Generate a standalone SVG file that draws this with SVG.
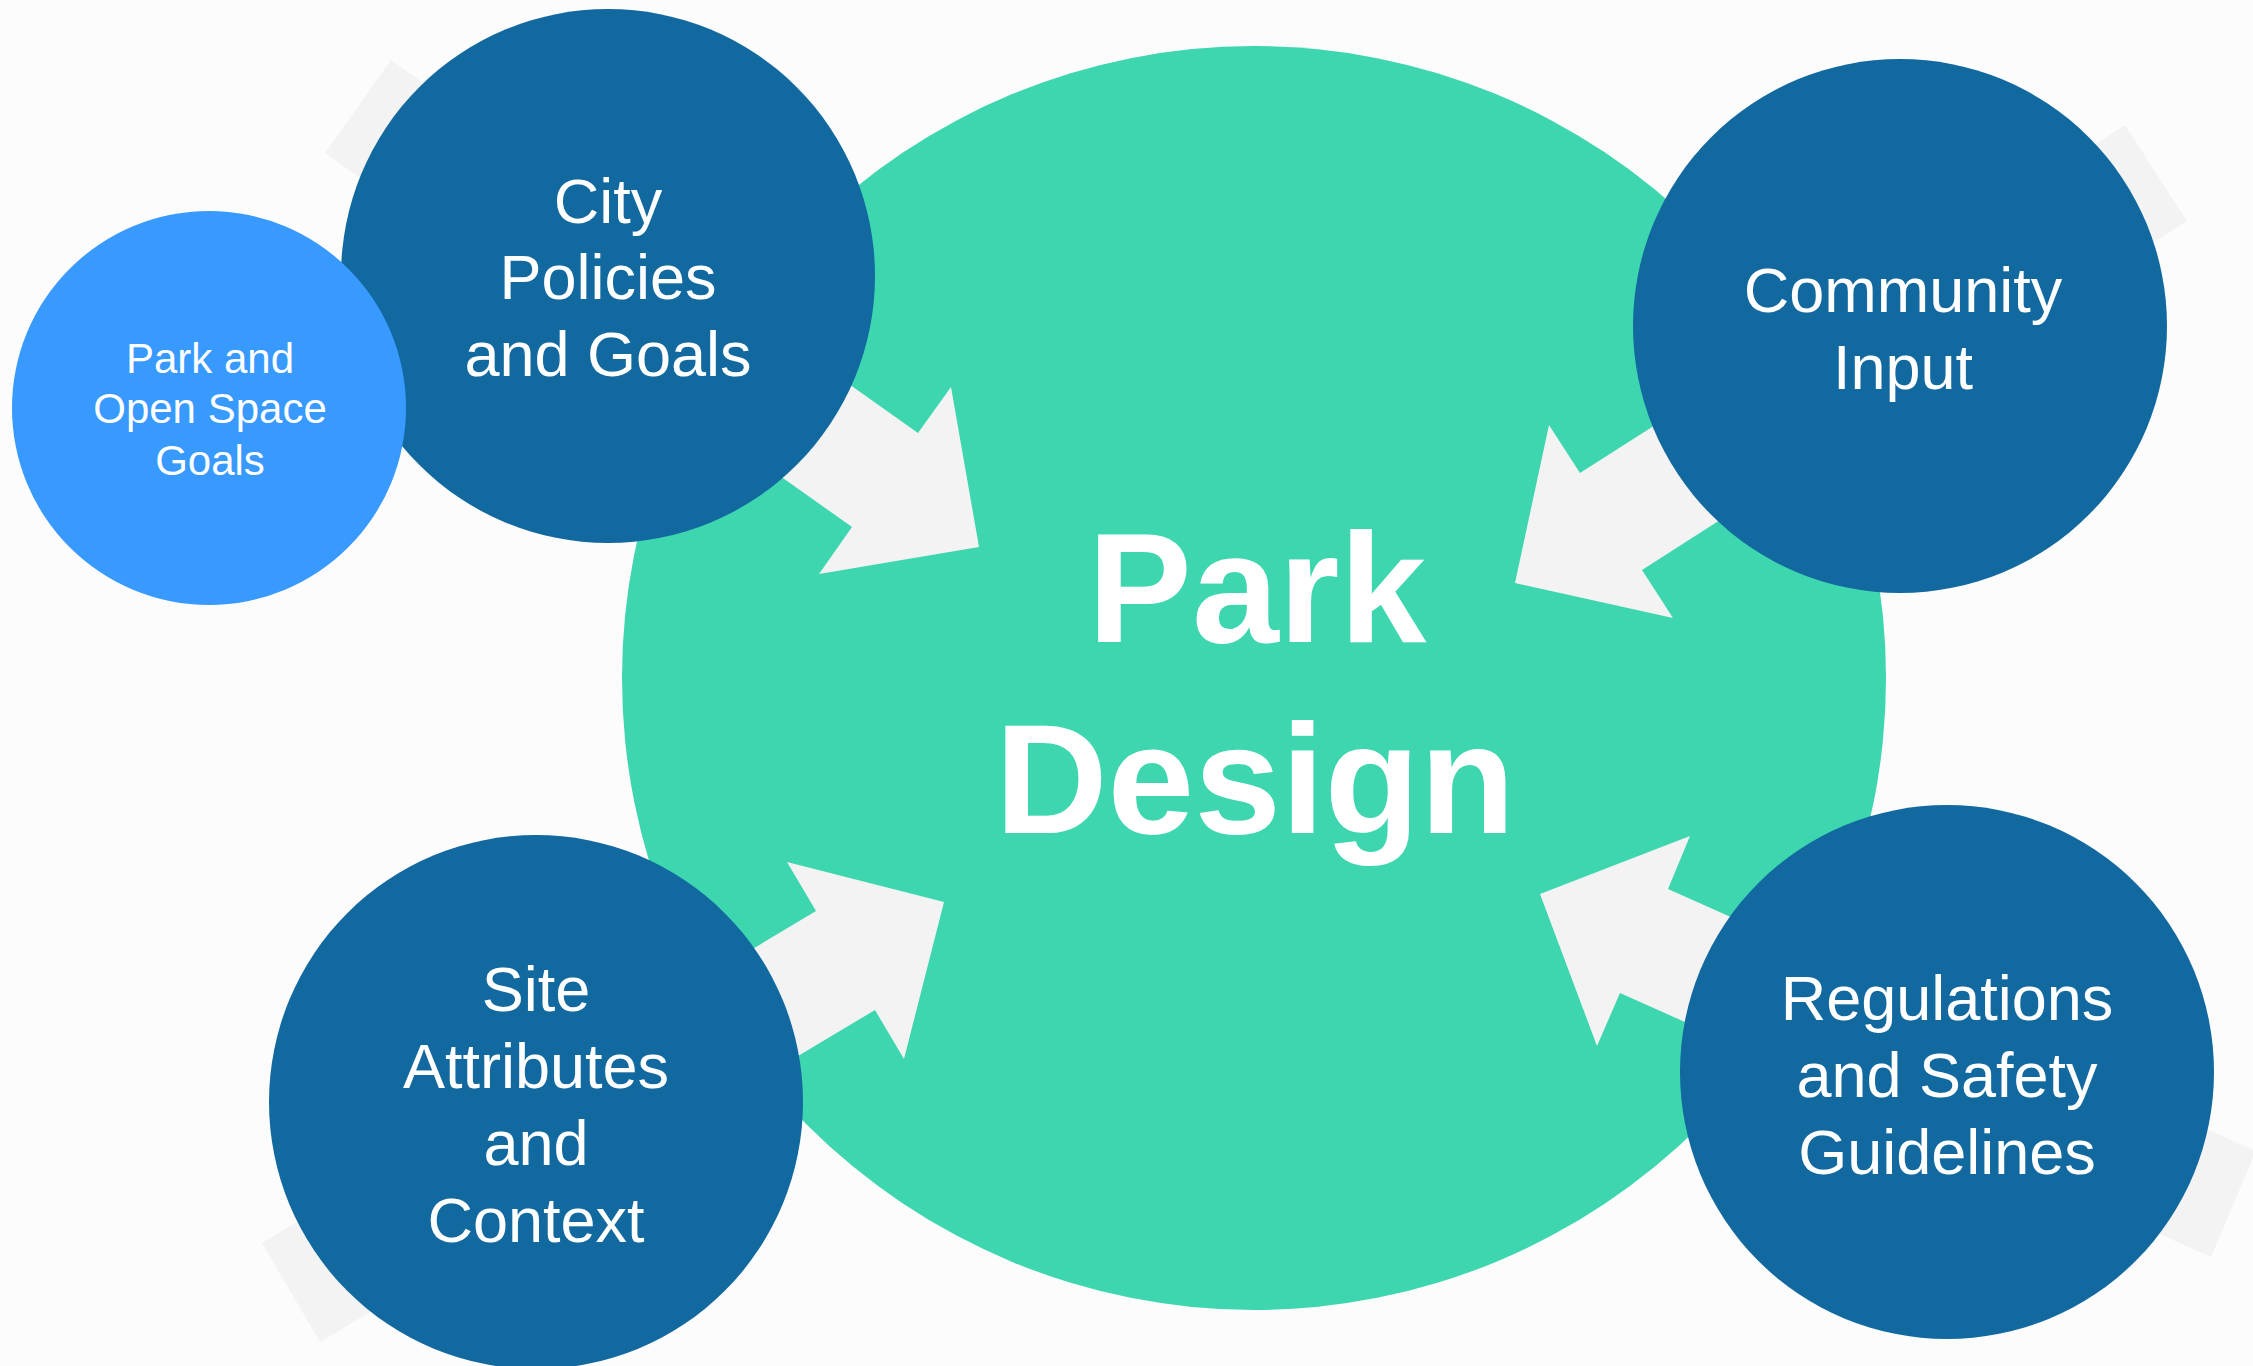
<svg xmlns="http://www.w3.org/2000/svg" width="2253" height="1366" viewBox="0 0 2253 1366">
  <style>
    .bg { fill: #FCFCFC; }
    .hub { fill: #3DD6AE; }
    .node { fill: #1169A0; }
    .sub { fill: #3899FF; }
    .arrow { fill: #F3F3F3; }
    .lbl { font-family: "Liberation Sans", Arial, sans-serif; fill: #FFFFFF; text-anchor: middle; }
    .big { font-size: 156px; font-weight: bold; }
    .mid { font-size: 63px; }
    .small { font-size: 42px; }
  </style>
  <rect class="bg" x="0" y="0" width="2253" height="1366"/>
  <g id="park-design">
    <circle class="hub" cx="1254" cy="678" r="632"/>
    <text class="lbl big" x="1257" y="642">Park</text>
    <text class="lbl big" x="1255" y="833">Design</text>
  </g>
  <g id="connectors">
    <polygon class="arrow" points="391,60 918,433 951,387 979,547 819,574 852,527 325,153"/>
    <polygon class="arrow" points="2125,125 1580,473 1549,425 1515,583 1673,618 1642,570 2187,221"/>
    <polygon class="arrow" points="262,1243 816,911 787,862 944,902 904,1059 875,1010 320,1342"/>
    <polygon class="arrow" points="1540,894 1690,836 1668,889 2256,1151 2211,1257 1620,993 1597,1046"/>
  </g>
  <g id="city-policies">
    <circle class="node" cx="608" cy="276" r="267"/>
    <text class="lbl mid" x="608" y="223">City</text>
    <text class="lbl mid" x="608" y="299">Policies</text>
    <text class="lbl mid" x="608" y="376">and Goals</text>
  </g>
  <g id="park-open-space">
    <circle class="sub" cx="209" cy="408" r="197"/>
    <text class="lbl small" x="210" y="373">Park and</text>
    <text class="lbl small" x="210" y="423">Open Space</text>
    <text class="lbl small" x="210" y="475">Goals</text>
  </g>
  <g id="community-input">
    <circle class="node" cx="1900" cy="326" r="267"/>
    <text class="lbl mid" x="1903" y="312">Community</text>
    <text class="lbl mid" x="1903" y="389">Input</text>
  </g>
  <g id="site-attributes">
    <circle class="node" cx="536" cy="1102" r="267"/>
    <text class="lbl mid" x="536" y="1011">Site</text>
    <text class="lbl mid" x="536" y="1088">Attributes</text>
    <text class="lbl mid" x="536" y="1165">and</text>
    <text class="lbl mid" x="536" y="1242">Context</text>
  </g>
  <g id="regulations">
    <circle class="node" cx="1947" cy="1072" r="267"/>
    <text class="lbl mid" x="1947" y="1020">Regulations</text>
    <text class="lbl mid" x="1947" y="1097">and Safety</text>
    <text class="lbl mid" x="1947" y="1174">Guidelines</text>
  </g>
</svg>
